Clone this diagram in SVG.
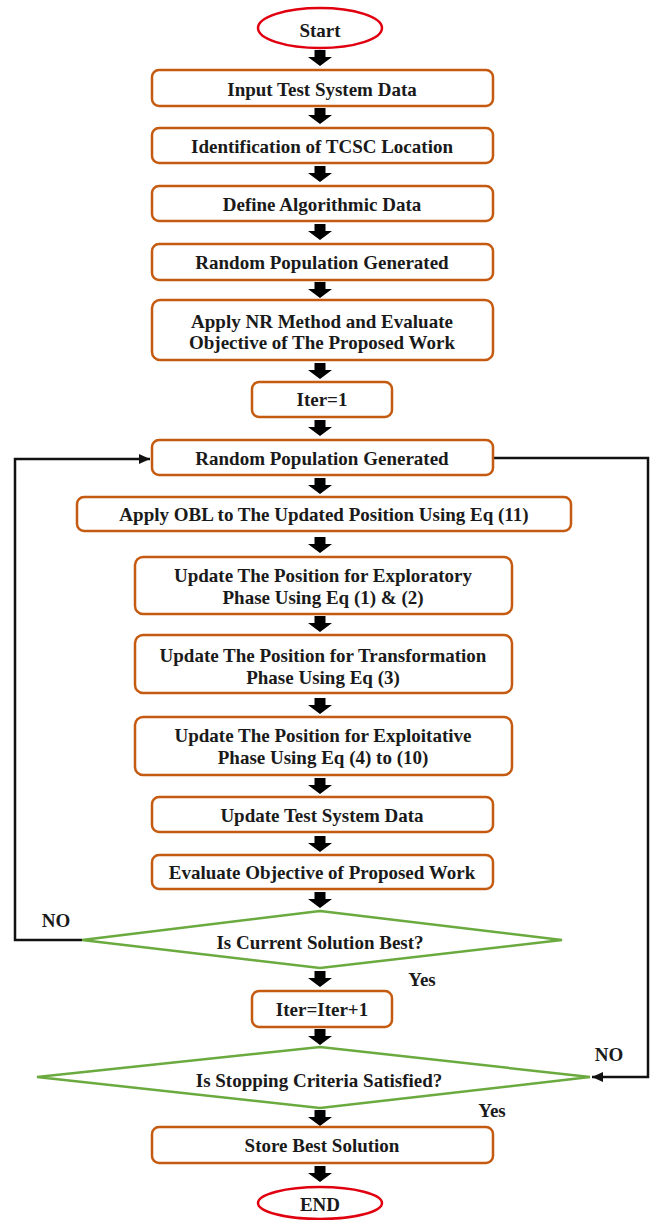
<svg xmlns="http://www.w3.org/2000/svg" xmlns:xlink="http://www.w3.org/1999/xlink" width="657" height="1220" viewBox="0 0 657 1220">
<style>
.box{fill:#fff;stroke:#C55A11;stroke-width:2.5}
.term{fill:#fff;stroke:#E00010;stroke-width:2.5}
.dec{fill:#fff;stroke:#6AAA3F;stroke-width:2.5}
.t{font-family:"Liberation Serif","Times New Roman",serif;font-weight:bold;font-size:19px;fill:#1a1a1a;text-anchor:middle}
.ln{fill:none;stroke:#111;stroke-width:2.5}
.ba{fill:#000}
</style>
<defs>
<path id="ba" d="M-5.5,0 H5.5 V7 H12 L0,16 L-12,7 H-5.5 Z"/>
<marker id="ah" markerUnits="userSpaceOnUse" markerWidth="12" markerHeight="10" refX="11" refY="5" orient="auto">
<path d="M0,0 L11,5 L0,10 Z" fill="#111"/>
</marker>
</defs>
<rect width="657" height="1220" fill="#fff"/>
<g id="connectors">
<polyline class="ln" points="82,940 15,940 15,459 150,459" marker-end="url(#ah)"/>
<polyline class="ln" points="493,458 648,458 648,1077 592,1077" marker-end="url(#ah)"/>
<g class="ba">
<use xlink:href="#ba" x="320" y="50"/>
<use xlink:href="#ba" x="320" y="108"/>
<use xlink:href="#ba" x="320" y="166"/>
<use xlink:href="#ba" x="320" y="224"/>
<use xlink:href="#ba" x="320" y="282"/>
<use xlink:href="#ba" x="320" y="363"/>
<use xlink:href="#ba" x="320" y="420"/>
<use xlink:href="#ba" x="320" y="478"/>
<use xlink:href="#ba" x="320" y="537"/>
<use xlink:href="#ba" x="320" y="616"/>
<use xlink:href="#ba" x="320" y="698"/>
<use xlink:href="#ba" x="320" y="778"/>
<use xlink:href="#ba" x="320" y="836"/>
<use xlink:href="#ba" x="320" y="892"/>
<use xlink:href="#ba" x="320" y="971"/>
<use xlink:href="#ba" x="320" y="1029"/>
<use xlink:href="#ba" x="320" y="1110"/>
<use xlink:href="#ba" x="320" y="1166"/>
</g>
</g>
<g id="start"><ellipse class="term" cx="320" cy="28" rx="62" ry="20"/><text class="t" x="320" y="37">Start</text></g>
<g id="n1"><rect class="box" x="152" y="70" width="341" height="36" rx="7"/><text class="t" x="322" y="95.5">Input Test System Data</text></g>
<g id="n2"><rect class="box" x="152" y="128" width="341" height="35" rx="7"/><text class="t" x="322" y="152.5">Identification of TCSC Location</text></g>
<g id="n3"><rect class="box" x="152" y="186" width="341" height="35" rx="7"/><text class="t" x="322" y="210.5">Define Algorithmic Data</text></g>
<g id="n4"><rect class="box" x="152" y="244" width="341" height="36" rx="7"/><text class="t" x="322" y="268.5">Random Population Generated</text></g>
<g id="n5"><rect class="box" x="152" y="300" width="341" height="60" rx="8"/><text class="t" x="322" y="327.5">Apply NR Method and Evaluate</text><text class="t" x="322" y="348.5">Objective of The Proposed Work</text></g>
<g id="n6"><rect class="box" x="252" y="382" width="140" height="35" rx="7"/><text class="t" x="322" y="406">Iter=1</text></g>
<g id="n7"><rect class="box" x="152" y="440" width="341" height="35" rx="7"/><text class="t" x="322" y="464.5">Random Population Generated</text></g>
<g id="n8"><rect class="box" x="77" y="497" width="494" height="34" rx="7"/><text class="t" x="324" y="521">Apply OBL to The Updated Position Using Eq (11)</text></g>
<g id="n9"><rect class="box" x="135" y="557" width="377" height="57" rx="8"/><text class="t" x="323" y="581.5">Update The Position for Exploratory</text><text class="t" x="323" y="603.5">Phase Using Eq (1) &amp; (2)</text></g>
<g id="n10"><rect class="box" x="135" y="635" width="377" height="58" rx="8"/><text class="t" x="323" y="661.5">Update The Position for Transformation</text><text class="t" x="323" y="683.5">Phase Using Eq (3)</text></g>
<g id="n11"><rect class="box" x="135" y="717" width="377" height="58" rx="8"/><text class="t" x="323" y="741.5">Update The Position for Exploitative</text><text class="t" x="323" y="763.5">Phase Using Eq (4) to (10)</text></g>
<g id="n12"><rect class="box" x="152" y="797" width="341" height="35" rx="7"/><text class="t" x="322" y="821.5">Update Test System Data</text></g>
<g id="n13"><rect class="box" x="152" y="855" width="341" height="34" rx="7"/><text class="t" x="322" y="878.5">Evaluate Objective of Proposed Work</text></g>
<g id="d1"><polygon class="dec" points="320,911 562,940 320,968 82,940"/><text class="t" x="320" y="948.5">Is Current Solution Best?</text></g>
<g id="n14"><rect class="box" x="252" y="991" width="140" height="36" rx="7"/><text class="t" x="322" y="1015.5">Iter=Iter+1</text></g>
<g id="d2"><polygon class="dec" points="320,1047 590,1077 320,1108 37,1077"/><text class="t" x="319" y="1086.5">Is Stopping Criteria Satisfied?</text></g>
<g id="n15"><rect class="box" x="152" y="1127" width="341" height="36" rx="7"/><text class="t" x="322" y="1152">Store Best Solution</text></g>
<g id="end"><ellipse class="term" cx="320" cy="1203" rx="62" ry="16"/><text class="t" x="320" y="1211">END</text></g>
<g id="labels">
<text class="t" x="56" y="926.5">NO</text>
<text class="t" x="422" y="985.5">Yes</text>
<text class="t" x="609" y="1060.5">NO</text>
<text class="t" x="492" y="1116.5">Yes</text>
</g>
</svg>
